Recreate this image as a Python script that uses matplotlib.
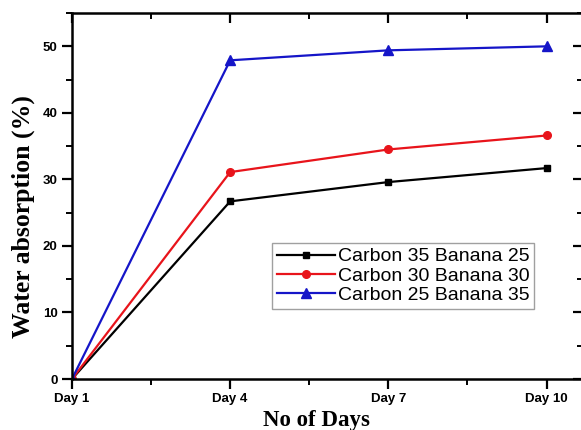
import numpy as np
import matplotlib.pyplot as plt
from matplotlib.ticker import MultipleLocator

days = ["Day 1", "Day 4", "Day 7", "Day 10"]
c35_b25 = [0, 26.7, 29.6, 31.7]
c30_b30 = [0, 31.1, 34.5, 36.6]
c25_b35 = [0, 47.9, 49.4, 50.0]

x = np.arange(len(days))

fig = plt.figure(figsize=(5.81, 4.30), dpi=100)
ax = fig.add_axes([0.1239, 0.1186, 0.8795, 0.851])

ax.plot(x, c35_b25, color='black', lw=1.6, marker='s', ms=4.5, label='Carbon 35 Banana 25')
ax.plot(x, c30_b30, color='#e8141b', lw=1.6, marker='o', ms=5.5, label='Carbon 30 Banana 30')
ax.plot(x, c25_b35, color='#1515c8', lw=1.6, marker='^', ms=6.5, label='Carbon 25 Banana 35')

ax.set_xlim(0, 3.23)
ax.set_ylim(0, 55)
ax.set_xticks(x)
ax.set_xticklabels(days)
ax.xaxis.set_minor_locator(MultipleLocator(0.5))
ax.yaxis.set_major_locator(MultipleLocator(10))
ax.yaxis.set_minor_locator(MultipleLocator(5))

for s in ax.spines.values():
    s.set_linewidth(1.8)

ax.tick_params(which='major', direction='out', length=7, width=1.6, labelsize=9.5)
ax.tick_params(which='minor', direction='out', length=4, width=1.4)
ax.tick_params(which='both', top=True, right=True)
ax.tick_params(which='major', axis='x', pad=3)
for lab in ax.get_xticklabels() + ax.get_yticklabels():
    lab.set_fontweight('bold')
    lab.set_family('Liberation Sans')

# top/right ticks point inward
for t in ax.xaxis.get_major_ticks() + ax.xaxis.get_minor_ticks():
    t.tick2line.set_marker(3)
for t in ax.yaxis.get_major_ticks() + ax.yaxis.get_minor_ticks():
    t.tick2line.set_marker(0)

ax.set_xlabel('No of Days', family='Liberation Serif', fontweight='bold', fontsize=16.5)
ax.set_ylabel('Water absorption (%)', family='Liberation Serif', fontweight='bold', fontsize=18.5)
ax.xaxis.set_label_coords(0.479, -0.085)
ax.yaxis.set_label_coords(-0.072, 0.445)

leg = ax.legend(loc='upper left', bbox_to_anchor=(0.391, 0.372),
                prop={'family': 'Liberation Sans', 'size': 14},
                frameon=True, fancybox=False, edgecolor='#888888', handlelength=3.0,
                handletextpad=0.15, borderpad=0.25, labelspacing=0.08, borderaxespad=0)
leg.get_frame().set_linewidth(1.0)

fig.savefig('out.png', dpi=100)
